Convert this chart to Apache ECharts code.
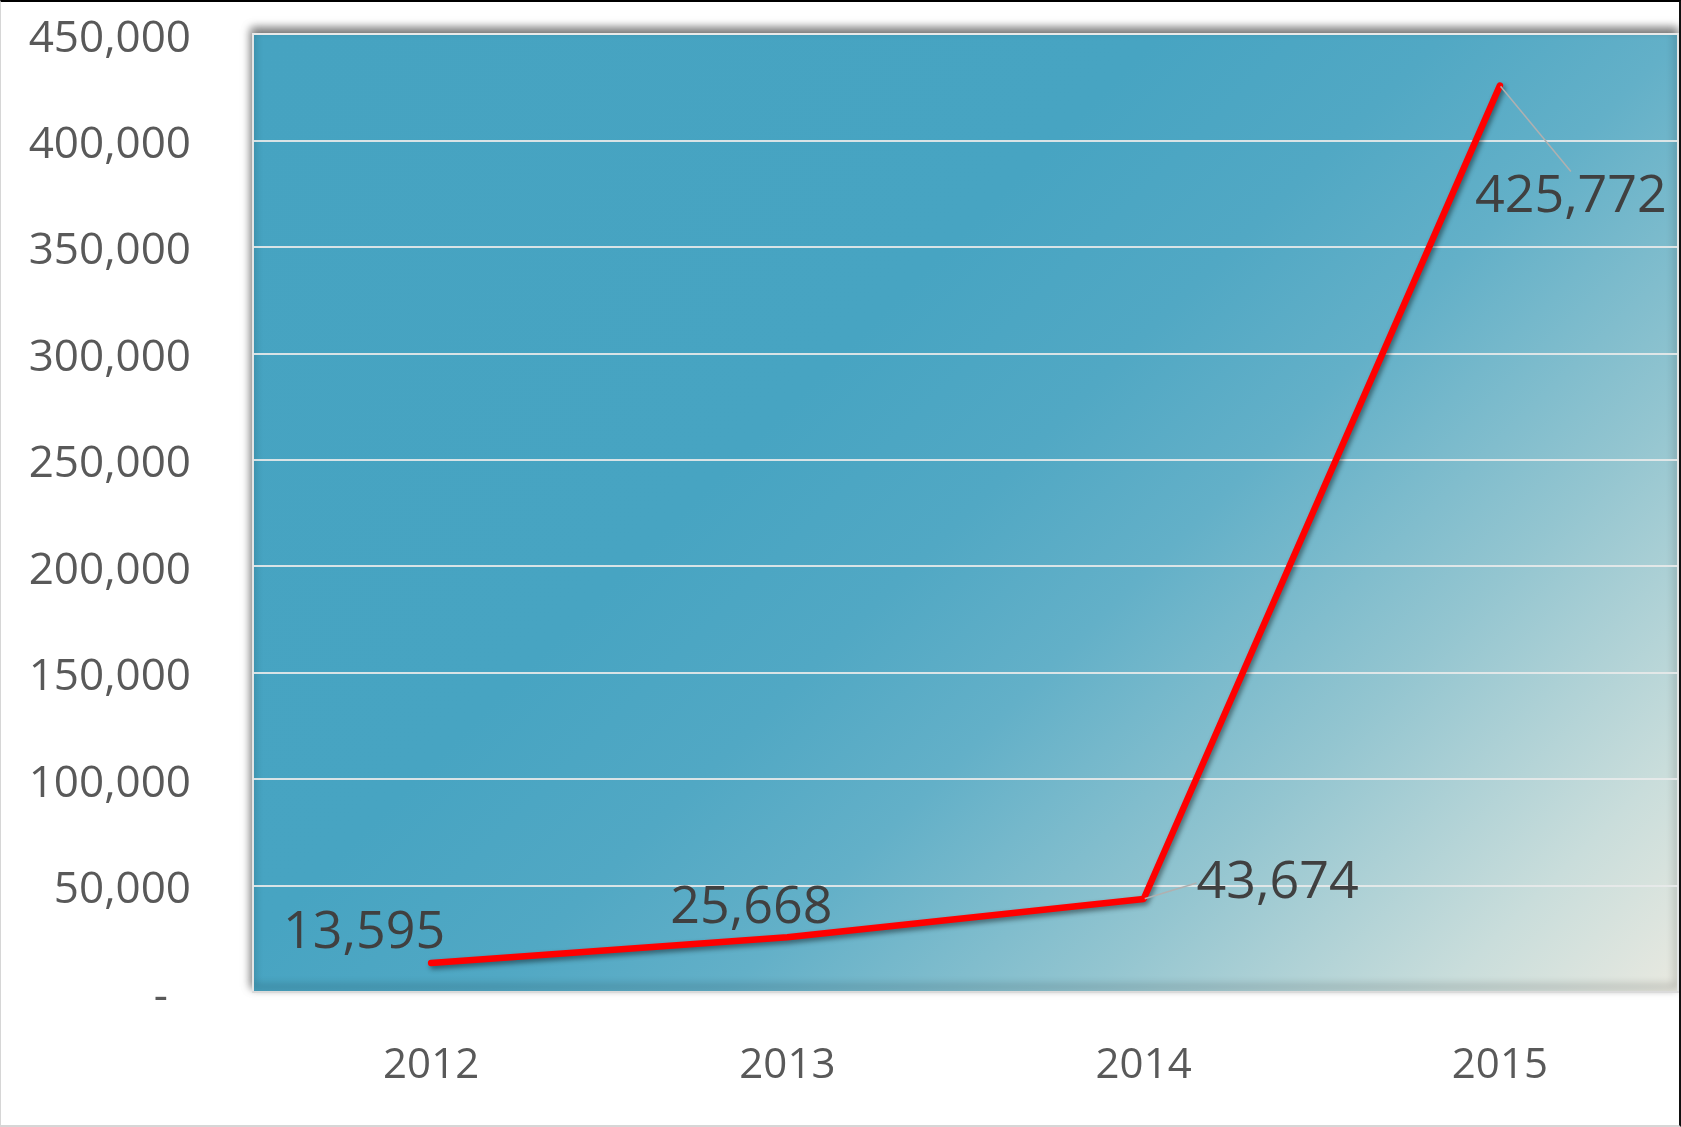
<!DOCTYPE html>
<html>
<head>
<meta charset="utf-8">
<title>2012–2015</title>
<script src="https://cdn.jsdelivr.net/npm/echarts@6/dist/echarts.min.js"></script>
<style>
  html, body { margin: 0; padding: 0; background: #ffffff; }
  #chart { position: absolute; left: 0; top: 0; width: 1681px; height: 1127px; }
  #frame {
    position: absolute; left: 0; top: 0; width: 1681px; height: 1127px;
    box-sizing: border-box; pointer-events: none;
    border-top: 2px solid #000000;
    border-right: 2px solid #111111;
    border-left: 1px solid #d6d6d6;
    border-bottom: 2px solid #d6d6d6;
  }
</style>
</head>
<body>
<div id="chart"></div>
<div id="frame"></div>
<script>
// Yearly totals
const years = ['2012', '2013', '2014', '2015'];
const totals = [13595, 25668, 43674, 425772];

// Value axis scale
const yMin = 0;
const yMax = 450000;
const yStep = 50000;

// Label placement relative to each point (dx, dy) and which labels get a leader line
const labelShift = [[-67, -30], [-36, -29], [134, -16], [71, 112]];
const leaderLine = [false, false, true, true];

const fmt = v => v.toLocaleString('en-US');

const chart = echarts.init(document.getElementById('chart'), null, { renderer: 'canvas' });

const plotFill = {
  type: 'linear',
  x: 253, y: 34, x2: 1445, y2: 1226,
  global: true,
  colorStops: [
    { offset: 0.0, color: '#46a3c1' },
    { offset: 0.38, color: '#47a4c2' },
    { offset: 0.5, color: '#51a8c4' },
    { offset: 0.6, color: '#63b0c8' },
    { offset: 0.75, color: '#93c5d0' },
    { offset: 0.9, color: '#c9dddb' },
    { offset: 1.0, color: '#e9e9e0' }
  ]
};

chart.setOption({
  animation: false,
  backgroundColor: '#ffffff',
  textStyle: { fontFamily: 'Open Sans' },
  grid: {
    left: 253, top: 34, right: 3, bottom: 135,
    show: true,
    backgroundColor: plotFill,
    borderColor: '#e4e6e6',
    borderWidth: 2,
    shadowColor: 'rgba(0,0,0,0.55)',
    shadowBlur: 9,
    shadowOffsetX: -1,
    shadowOffsetY: -5
  },
  xAxis: {
    type: 'category',
    data: years,
    boundaryGap: true,
    axisLine: { show: true, lineStyle: { color: '#dadada', width: 2 } },
    axisTick: { show: false },
    axisLabel: {
      color: '#595959',
      fontFamily: 'Open Sans',
      fontSize: 42,
      margin: 53
    },
    splitLine: { show: false }
  },
  yAxis: {
    type: 'value',
    min: yMin,
    max: yMax,
    interval: yStep,
    axisLine: { show: false },
    axisTick: { show: false },
    axisLabel: {
      color: '#595959',
      fontFamily: 'Open Sans',
      fontSize: 44,
      margin: 62,
      padding: [10, 0, 0, 0],
      formatter: v => (v === 0 ? '{z|-}' : fmt(v)),
      rich: {
        z: { color: '#595959', fontFamily: 'Open Sans', fontSize: 44, padding: [0, 23, 0, 0] }
      }
    },
    splitLine: { show: true, lineStyle: { color: 'rgba(232,234,234,0.9)', width: 2 } }
  },
  series: [{
    type: 'line',
    data: totals.map((v, i) => ({
      value: v,
      labelLine: { show: leaderLine[i] }
    })),
    showSymbol: true,
    symbol: 'circle',
    symbolSize: 2,
    itemStyle: { color: '#ff0000' },
    lineStyle: {
      color: '#ff0000',
      width: 6.5,
      cap: 'round',
      join: 'round',
      shadowColor: 'rgba(0,0,0,0.45)',
      shadowBlur: 5,
      shadowOffsetX: 2,
      shadowOffsetY: 3
    },
    label: {
      show: true,
      position: 'inside',
      color: '#404040',
      fontFamily: 'Open Sans',
      fontSize: 52,
      formatter: p => fmt(p.value)
    },
    labelLine: {
      show: false,
      lineStyle: { color: '#b0b0b0', width: 1.5 }
    },
    labelLayout: p => ({ dx: labelShift[p.dataIndex][0], dy: labelShift[p.dataIndex][1] }),
    emphasis: { disabled: true },
    silent: true
  }]
});
</script>
</body>
</html>
